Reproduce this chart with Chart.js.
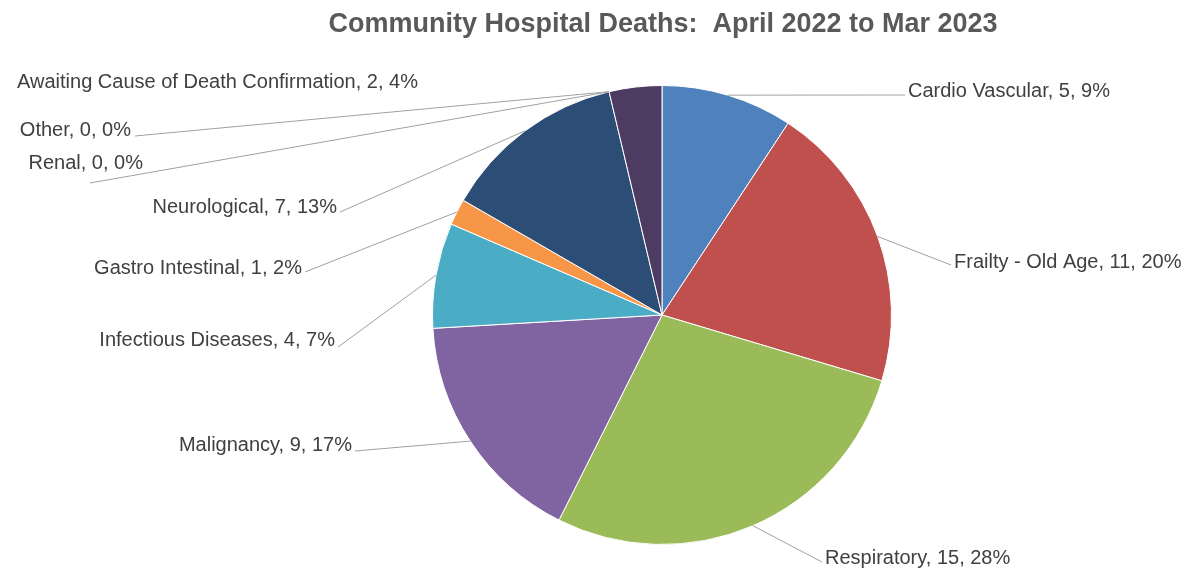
<!DOCTYPE html>
<html>
<head>
<meta charset="utf-8">
<script src="https://cdn.jsdelivr.net/npm/chart.js@4.4.0/dist/chart.umd.min.js"></script>
<style>
  html, body { margin: 0; padding: 0; background: #fff; }
  #wrap { width: 1185px; height: 568px; }
</style>
</head>
<body>
<div id="wrap"><canvas id="deathChart" width="1185" height="568"></canvas></div>
<script>
// causes of death, Apr 2022 - Mar 2023
const causes = ['Cardio Vascular', 'Frailty - Old Age', 'Respiratory', 'Malignancy',
  'Infectious Diseases', 'Gastro Intestinal', 'Neurological', 'Renal', 'Other',
  'Awaiting Cause of Death Confirmation'];
const deaths = [5, 11, 15, 9, 4, 1, 7, 0, 0, 2];
const sliceColours = ['#4F81BD', '#C0504D', '#9BBB59', '#8064A2', '#4BACC6',
  '#F79646', '#2C4D75', '#772C2A', '#5F7530', '#4D3B62'];

// where each label sits (leader end ex/ey, text tx/ty), hand placed like the original
const labelSpots = [
  { ex: 905, ey: 95,  tx: 908, ty: 91,  align: 'left' },
  { ex: 951, ey: 265, tx: 954, ty: 262, align: 'left' },
  { ex: 822, ey: 562, tx: 825, ty: 558, align: 'left' },
  { ex: 355, ey: 451, tx: 352, ty: 445, align: 'right' },
  { ex: 338, ey: 347, tx: 335, ty: 340, align: 'right' },
  { ex: 305, ey: 272, tx: 302, ty: 268, align: 'right' },
  { ex: 340, ey: 212, tx: 337, ty: 207, align: 'right' },
  { ex: 90,  ey: 183, tx: 143, ty: 163, align: 'right' },
  { ex: 135, ey: 136, tx: 131, ty: 130, align: 'right' },
  { ex: null, ey: null, tx: 418, ty: 82, align: 'right' }
];

const chartTitle = 'Community Hospital Deaths:  April 2022 to Mar 2023';
const total = deaths.reduce((a, b) => a + b, 0);

const pieLabels = {
  id: 'pieLabels',
  afterDraw(chart) {
    const ctx = chart.ctx;
    const arcs = chart.getDatasetMeta(0).data;
    ctx.save();
    // title, drawn here so it is not squeezed into the padded area
    ctx.font = 'bold 27px "Liberation Sans", Arial, sans-serif';
    ctx.fillStyle = '#595959';
    ctx.textAlign = 'center';
    ctx.textBaseline = 'middle';
    ctx.fillText(chartTitle, 663, 25);

    ctx.font = '20px "Liberation Sans", Arial, sans-serif';
    ctx.fillStyle = '#404040';
    ctx.strokeStyle = '#A0A0A0';
    ctx.lineWidth = 1;
    arcs.forEach((arc, i) => {
      const spot = labelSpots[i];
      const p = arc.getProps(['x', 'y', 'startAngle', 'endAngle', 'outerRadius'], true);
      const mid = (p.startAngle + p.endAngle) / 2;
      const sx = p.x + Math.cos(mid) * p.outerRadius;
      const sy = p.y + Math.sin(mid) * p.outerRadius;
      if (spot.ex !== null) {
        ctx.beginPath();
        ctx.moveTo(sx, sy);
        ctx.lineTo(spot.ex, spot.ey);
        ctx.stroke();
      }
      const pct = Math.round(deaths[i] / total * 100);
      ctx.textAlign = spot.align;
      ctx.fillText(causes[i] + ', ' + deaths[i] + ', ' + pct + '%', spot.tx, spot.ty);
    });
    ctx.restore();
  }
};

new Chart(document.getElementById('deathChart'), {
  type: 'pie',
  data: {
    labels: causes,
    datasets: [{
      data: deaths,
      backgroundColor: sliceColours,
      borderColor: '#ffffff',
      borderWidth: 1
    }]
  },
  options: {
    responsive: false,
    animation: false,
    layout: { padding: { left: 432, right: 293, top: 62, bottom: 0 } },
    plugins: {
      legend: { display: false },
      tooltip: { enabled: false },
      title: { display: false }
    }
  },
  plugins: [pieLabels]
});
</script>
</body>
</html>
